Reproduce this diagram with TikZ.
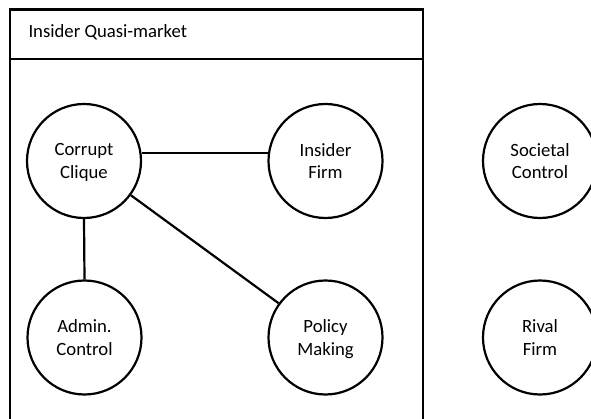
\documentclass[tikz,border=0pt]{standalone}
\usepackage{fontspec}
\setmainfont{Carlito}
\begin{document}
\begin{tikzpicture}[x=1pt,y=-1pt,
  label font/.style={font=\fontsize{18.7}{22.5}\selectfont},
  actor/.style={circle,draw,line width=2.2pt,minimum size=114pt,inner sep=0pt,
    align=center,text depth=-4pt,label font},
  link/.style={line width=2.2pt},
  frame/.style={line width=2.2pt}]
\useasboundingbox (0,0) rectangle (591,419);
% quasi-market container, open at the bottom
\begin{scope}
\clip (0,0) rectangle (591,419);
\draw[frame] (10,430) -- (10,9.5) -- (423,9.5) -- (423,430);
\draw[frame] (10,59) -- (423,59);
\end{scope}
\node[anchor=base west,label font] (title) at (25,37.5) {Insider Quasi-market};
% actors
\node[actor] (cc) at (84,161) {Corrupt\\Clique};
\node[actor] (if) at (325.5,161) {Insider\\Firm};
\node[actor] (ac) at (84.5,337.5) {Admin.\\Control};
\node[actor] (pm) at (325.5,337.5) {Policy\\Making};
\node[actor] (sc) at (540,161) {Societal\\Control};
\node[actor] (rf) at (540,337.5) {Rival\\Firm};
% ties
\draw[link] (cc.8) -- (if.172);
\draw[link] (cc.south) -- (ac.north);
\draw[link] (cc) -- (pm);
\end{tikzpicture}
\end{document}
